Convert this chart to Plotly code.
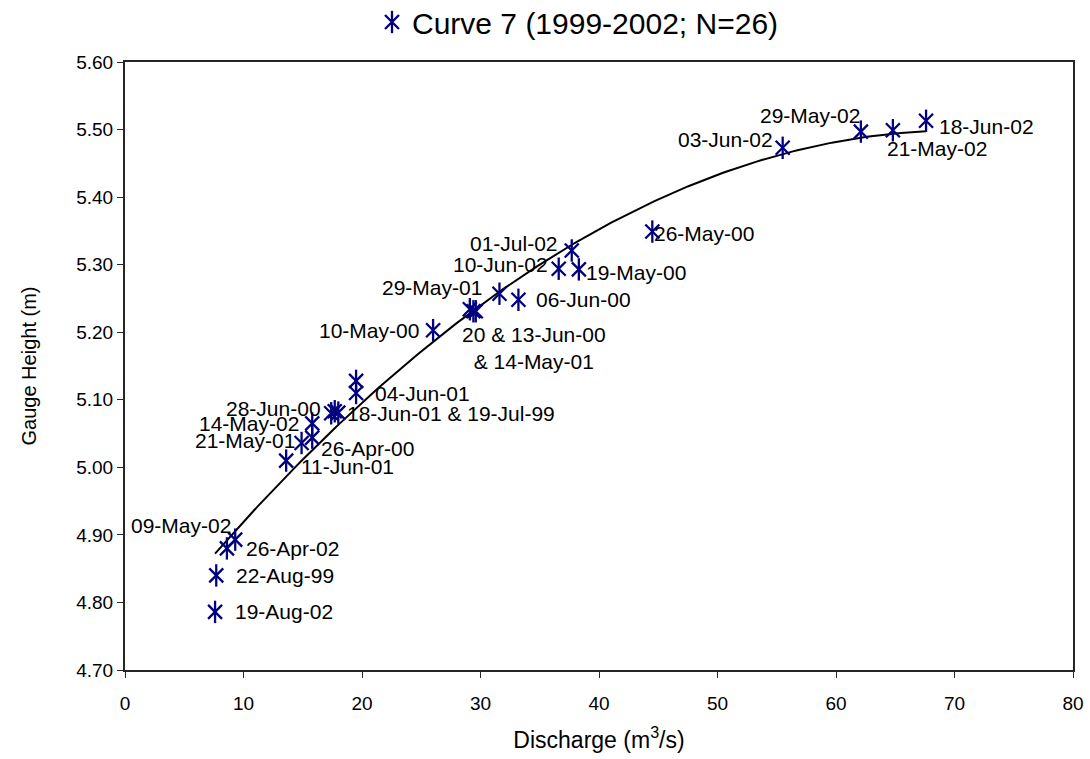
import numpy as np
import plotly.graph_objects as go

# Rating curve 7 gaugings, 1999-2002
dates = [
    "18-Jun-02", "21-May-02", "29-May-02", "03-Jun-02", "26-May-00",
    "01-Jul-02", "10-Jun-02", "19-May-00", "29-May-01", "06-Jun-00",
    "20-Jun-00", "13-Jun-00", "14-May-01", "10-May-00", "04-Jun-01",
    "04-Jun-01", "28-Jun-00", "18-Jun-01", "19-Jul-99", "14-May-02",
    "26-Apr-00", "21-May-01", "11-Jun-01", "09-May-02", "26-Apr-02",
    "22-Aug-99", "19-Aug-02",
]
discharge = [
    67.6, 64.8, 62.1, 55.5, 44.5,
    37.7, 36.6, 38.3, 31.6, 33.2,
    29.1, 29.4, 29.6, 26.0, 19.5,
    19.5, 17.4, 17.7, 18.0, 15.8,
    15.8, 14.9, 13.6, 9.3, 8.6,
    7.7, 7.6,
]
gauge_height = [
    5.513, 5.499, 5.497, 5.473, 5.349,
    5.321, 5.294, 5.293, 5.257, 5.248,
    5.234, 5.231, 5.231, 5.203, 5.128,
    5.110, 5.080, 5.083, 5.081, 5.065,
    5.044, 5.036, 5.010, 4.893, 4.880,
    4.840, 4.786,
]

# Data label text and placement (xshift, yshift in px, anchor), keyed by point index
labels = {
    0: ("18-Jun-02", 11, -6, "left"),
    1: ("21-May-02", -8, -18, "left"),
    2: ("29-May-02", 1, 16, "right"),
    3: ("03-Jun-02", -8, 8, "right"),
    4: ("26-May-00", 0, -2, "left"),
    5: ("01-Jul-02", -12, 7, "right"),
    6: ("10-Jun-02", -9, 4, "right"),
    7: ("19-May-00", 5, -3, "left"),
    8: ("29-May-01", -15, 6, "right"),
    9: ("06-Jun-00", 16, 0, "left"),
    11: ("20 & 13-Jun-00<br>& 14-May-01", 61, -37, "center"),
    13: ("10-May-00", -12, 0, "right"),
    15: ("04-Jun-01", 17, 0, "left"),
    16: ("28-Jun-00", -8, 5, "right"),
    18: ("18-Jun-01 & 19-Jul-99", 7, -1, "left"),
    19: ("14-May-02", -11, 0, "right"),
    20: ("26-Apr-00", 7, -11, "left"),
    21: ("21-May-01", -5, 3, "right"),
    22: ("11-Jun-01", 13, -6, "left"),
    23: ("09-May-02", -2, 14, "right"),
    24: ("26-Apr-02", 17, 0, "left"),
    25: ("22-Aug-99", 18, 0, "left"),
    26: ("19-Aug-02", 18, 0, "left"),
}

NAVY = "#000080"
AXIS = "#262626"
FONT = "Liberation Sans, Arial, sans-serif"
series_name = "Curve 7 (1999-2002; N=26)"

# Second-order polynomial trendline through the gaugings
coef = np.polyfit(discharge, gauge_height, 2)
q_fit = np.linspace(min(discharge), max(discharge), 200)
h_fit = np.polyval(coef, q_fit)

fig = go.Figure()

fig.add_trace(go.Scatter(
    x=q_fit, y=h_fit, mode="lines",
    line=dict(color="black", width=2),
    showlegend=False, hoverinfo="skip",
))

# Six-armed star marker built from a thin cross plus a vertical stroke
fig.add_trace(go.Scatter(
    x=discharge, y=gauge_height, mode="markers", name=series_name,
    marker=dict(symbol="x-thin-open", size=14,
                line=dict(color=NAVY, width=2.3), color=NAVY),
    legend="legend", text=dates,
))
fig.add_trace(go.Scatter(
    x=discharge, y=gauge_height, mode="markers", name=" ",
    marker=dict(symbol="line-ns-open", size=16,
                line=dict(color=NAVY, width=2.3), color=NAVY),
    legend="legend2", text=dates,
))

annotations = []
for i, (q, h) in enumerate(zip(discharge, gauge_height)):
    if i not in labels:
        continue
    txt, dx, dy, anchor = labels[i]
    annotations.append(dict(
        x=q, y=h, xref="x", yref="y", text=txt, showarrow=False,
        xanchor=anchor, yanchor="middle", xshift=dx, yshift=dy,
        font=dict(family=FONT, size=21, color="black"),
        align="center",
    ))

legend_style = dict(
    x=372 / 1090, y=1 - 22 / 759, xref="container", yref="container",
    xanchor="left", yanchor="middle",
    orientation="h", bgcolor="rgba(0,0,0,0)",
    font=dict(family=FONT, size=30, color="black"),
    itemwidth=30,
)

fig.update_layout(
    width=1090, height=759,
    margin=dict(l=125, r=17, t=62, b=89, autoexpand=False),
    paper_bgcolor="white", plot_bgcolor="white",
    font=dict(family=FONT, size=19, color="black"),
    annotations=annotations,
    legend=legend_style,
    legend2=legend_style,
    xaxis=dict(
        range=[0, 80], dtick=10, tick0=0,
        showgrid=False, zeroline=False,
        showline=True, linecolor=AXIS, linewidth=2, mirror=True,
        ticks="outside", ticklen=6, tickcolor=AXIS, tickwidth=1,
        ticklabelstandoff=9,
        tickfont=dict(family=FONT, size=19),
        title=dict(text="Discharge (m<sup>3</sup>/s)", standoff=19,
                   font=dict(family=FONT, size=23)),
    ),
    yaxis=dict(
        range=[4.70, 5.60], dtick=0.1, tick0=4.7, tickformat=".2f",
        showgrid=False, zeroline=False,
        showline=True, linecolor=AXIS, linewidth=2, mirror=True,
        ticks="outside", ticklen=6, tickcolor=AXIS, tickwidth=1,
        tickfont=dict(family=FONT, size=19),
        title=dict(text="Gauge Height (m)", standoff=34,
                   font=dict(family=FONT, size=20)),
    ),
)

fig.write_html("out.html")
